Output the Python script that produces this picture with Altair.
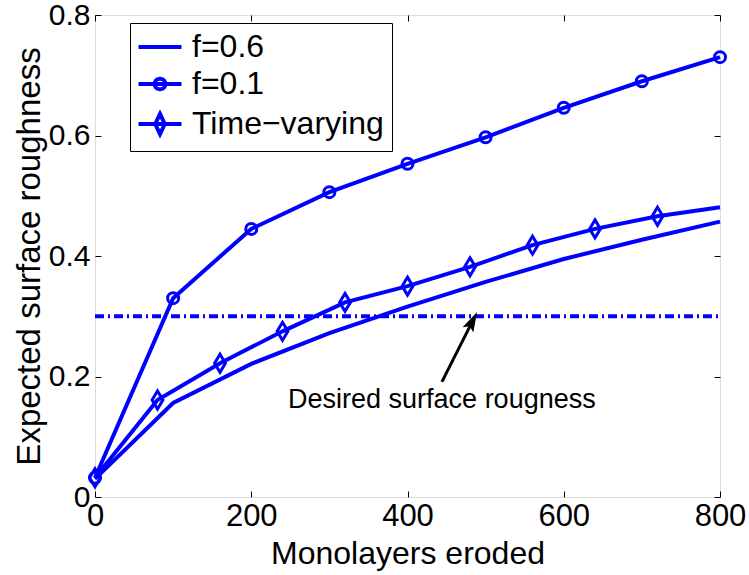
import altair as alt
import pandas as pd

# ---------------- data ----------------
x_f06 = [0, 100, 200, 300, 400, 500, 600, 700, 800]
y_f06 = [0.030, 0.156, 0.221, 0.272, 0.316, 0.357, 0.395, 0.427, 0.457]

x_f01 = [0, 100, 200, 300, 400, 500, 600, 700, 800]
y_f01 = [0.032, 0.330, 0.445, 0.506, 0.553, 0.597, 0.646, 0.690, 0.730]

x_tv = [0, 80, 160, 240, 320, 400, 480, 560, 640, 720, 800]
y_tv = [0.032, 0.161, 0.222, 0.275, 0.323, 0.350, 0.382, 0.418, 0.445, 0.466, 0.481]
tv_marker = [True, True, True, True, True, True, True, True, True, True, False]

series_names = ["f=0.6", "f=0.1", "Time\u2212varying"]

desired_level = [0.3]
desired_x = [0]
desired_x2 = [800]

annot_text = ["Desired surface rougness"]
annot_x = [444]
annot_y = [0.148]

arrow_tail_x = [444]
arrow_tail_y = [0.191]
arrow_shaft_end_x = [481]
arrow_shaft_end_y = [0.286]
arrow_tip_x = [489]
arrow_tip_y = [0.307]

x_ticks = [0, 200, 400, 600, 800]
y_ticks = [0, 0.2, 0.4, 0.6, 0.8]

# ---------------- tables ----------------
df06 = pd.DataFrame({"x": x_f06, "y": y_f06, "series": series_names[0]})
df01 = pd.DataFrame({"x": x_f01, "y": y_f01, "series": series_names[1]})
dftv = pd.DataFrame({"x": x_tv, "y": y_tv, "series": series_names[2], "marker": tv_marker})
dfdes = pd.DataFrame({"x": desired_x, "x2": desired_x2, "y": desired_level})
dftext = pd.DataFrame({"x": annot_x, "y": annot_y, "t": annot_text})
dfshaft = pd.DataFrame({"x": arrow_tail_x, "y": arrow_tail_y,
                        "x2": arrow_shaft_end_x, "y2": arrow_shaft_end_y})
dfhead = pd.DataFrame({"x": arrow_tip_x, "y": arrow_tip_y})
dflegend = pd.DataFrame({"x": [0, 0, 0], "y": [0, 0, 0], "series": series_names})

BLUE = "#0000ff"
FONT = "Liberation Sans"
W, H = 625, 482

xs = alt.Scale(domain=[0, 800], nice=False, zero=False)
ys = alt.Scale(domain=[0, 0.8], nice=False, zero=False)

tick_common = dict(domain=False, grid=False, tickSize=6, tickColor="black",
                   tickWidth=1, offset=-6)

x_axis_bottom = alt.Axis(orient="bottom", values=x_ticks, labelFontSize=31,
                         labelFont=FONT, labelColor="black", labelPadding=4,
                         labelFlush=False, labelOverlap=False,
                         title="Monolayers eroded", titleFont=FONT,
                         titleFontSize=32, titleFontWeight="normal",
                         titleColor="black", titleBaseline="alphabetic",
                         titleY=72, **tick_common)
y_axis_left = alt.Axis(orient="left", values=y_ticks, labelFontSize=30,
                       labelFont=FONT, labelColor="black", labelPadding=5,
                       labelExpr="datum.value == 0 ? '0' : format(datum.value, '.1f')",
                       labelOverlap=False, labelFlush=False,
                       title="Expected surface roughness", titleFont=FONT,
                       titleFontSize=33, titleFontWeight="normal",
                       titleColor="black", titlePadding=2, **tick_common)
x_axis_top = alt.Axis(orient="top", values=x_ticks, labels=False, title=None,
                      **tick_common)
y_axis_right = alt.Axis(orient="right", values=y_ticks, labels=False, title=None,
                        **tick_common)

# f=0.6 line (carries bottom / left axes)
l06 = alt.Chart(df06).mark_line(color=BLUE, strokeWidth=4, clip=False).encode(
    x=alt.X("x:Q", scale=xs, axis=x_axis_bottom),
    y=alt.Y("y:Q", scale=ys, axis=y_axis_left),
)

# desired level (carries top / right axes)
ldes = alt.Chart(dfdes).mark_rule(color=BLUE, strokeWidth=4,
                                  strokeDash=[9, 4, 2, 4]).encode(
    x=alt.X("x:Q", scale=xs, axis=x_axis_top),
    x2="x2:Q",
    y=alt.Y("y:Q", scale=ys, axis=y_axis_right),
)

def xenc():
    return alt.X("x:Q", scale=xs, axis=None)

def yenc():
    return alt.Y("y:Q", scale=ys, axis=None)

l01 = alt.Chart(df01).mark_line(color=BLUE, strokeWidth=4).encode(x=xenc(), y=yenc())
ltv = alt.Chart(dftv).mark_line(color=BLUE, strokeWidth=4).encode(x=xenc(), y=yenc())

circles = alt.Chart(df01).mark_point(shape="circle", filled=False, color=BLUE,
                                     strokeWidth=3, size=121, opacity=1).encode(
    x=xenc(), y=yenc())

DIAMOND = "M0,-1L0.6,0L0,1L-0.6,0Z"
diamonds = alt.Chart(dftv).transform_filter("datum.marker").mark_point(
    shape=DIAMOND, filled=False, color=BLUE, strokeWidth=3, size=324, opacity=1
).encode(x=xenc(), y=yenc())

text = alt.Chart(dftext).mark_text(font=FONT, fontSize=27, color="black",
                                   align="center", baseline="alphabetic").encode(
    x=xenc(), y=yenc(), text="t:N")

shaft = alt.Chart(dfshaft).mark_rule(color="black", strokeWidth=3).encode(
    x=xenc(), y=yenc(), x2="x2:Q", y2="y2:Q")

HEAD = "M0,0L-0.3,1L0,0.8L0.3,1Z"
head = alt.Chart(dfhead).mark_point(shape=HEAD, filled=True, color="black",
                                    size=1600, angle=27, opacity=1,
                                    strokeWidth=0).encode(x=xenc(), y=yenc())

# legend symbols: unit = sqrt(symbolSize)/2 ~ 10.75 px, paths span -2..2 (43 px)
LEG_LINE = "M-2,0L2,0"
LEG_CIRC = "M-2,0L2,0M-0.5,0A0.5,0.5,0,1,1,0.5,0A0.5,0.5,0,1,1,-0.5,0Z"
LEG_DIAM = "M-2,0L2,0M0,-0.94L0.44,0L0,0.94L-0.44,0Z"

legend_layer = alt.Chart(dflegend).transform_filter("false").mark_point(
    filled=False, color=BLUE).encode(
    x=xenc(), y=yenc(),
    shape=alt.Shape("series:N",
                    scale=alt.Scale(domain=series_names,
                                    range=[LEG_LINE, LEG_CIRC, LEG_DIAM]),
                    legend=alt.Legend(orient="none", legendX=35, legendY=8,
                                      title=None, fillColor="white",
                                      strokeColor="black",
                                      cornerRadius=0, padding=8,
                                      labelFont=FONT, labelFontSize=32,
                                      labelColor="black", labelLimit=0,
                                      symbolSize=462, symbolStrokeWidth=4,
                                      symbolStrokeColor=BLUE,
                                      symbolFillColor="white",
                                      symbolOpacity=1, symbolOffset=6,
                                      labelOffset=16, rowPadding=5)),
)

chart = alt.layer(
    l06, ldes, l01, ltv, circles, diamonds, shaft, head, text, legend_layer
).resolve_axis(x="independent", y="independent").properties(
    width=W, height=H,
    autosize=alt.AutoSizeParams(type="none"),
    padding={"left": 95, "top": 15, "right": 29, "bottom": 78},
).configure_view(stroke="black", strokeWidth=1).configure_legend(
    strokeWidth=1
).configure(background="white")

chart.save("out.html", embed_options={"renderer": "svg", "actions": False})
